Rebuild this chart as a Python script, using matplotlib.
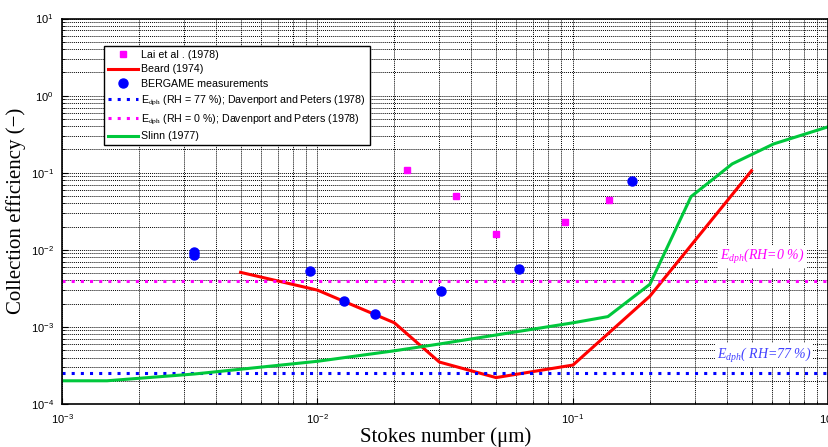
import numpy as np
import matplotlib
matplotlib.use("Agg")
import matplotlib.pyplot as plt

plt.rcParams['font.family'] = ['Liberation Sans', 'DejaVu Sans']
plt.rcParams['mathtext.default'] = 'regular'

# Lai et al. (1978)
lai_x = [0.0224, 0.0348, 0.0501, 0.0927, 0.138]
lai_y = [0.107, 0.0494, 0.0159, 0.0227, 0.0443]

# BERGAME measurements
berg_x = [0.0033, 0.0033, 0.00935, 0.0127, 0.0168, 0.0305, 0.0617, 0.171]
berg_y = [0.0094, 0.0086, 0.0053, 0.00217, 0.00147, 0.0029, 0.00558, 0.078]

# Beard (1974)
beard_x = [0.005, 0.01, 0.02, 0.03, 0.05, 0.1, 0.2, 0.5]
beard_y = [0.0051, 0.003, 0.00113, 0.00035, 0.00022, 0.00032, 0.0025, 0.106]

# Slinn (1977)
slinn_x = [0.001, 0.0015, 0.0033, 0.01, 0.02, 0.03, 0.05, 0.1, 0.137, 0.2, 0.29, 0.42, 0.61, 1.0]
slinn_y = [0.0002, 0.0002, 0.000245, 0.000358, 0.00049, 0.0006, 0.000785, 0.00113, 0.00136,
           0.00357, 0.049, 0.13, 0.236, 0.395]

# Davenport and Peters (1978)
edph_77 = 0.00025
edph_0 = 0.0039

fig = plt.figure(figsize=(8.29, 4.47), dpi=100)
ax = fig.add_axes([0.0748, 0.0962, 0.9245, 0.8624])

ax.set_xscale('log')
ax.set_yscale('log')
ax.set_xlim(1e-3, 1)
ax.set_ylim(1e-4, 10)

ax.grid(True, which='both', color='k', ls=(0, (1, 1)), lw=0.7)
ax.set_axisbelow(True)

ax.plot(lai_x, lai_y, 's', color='#ff00ff', ms=5, label='Lai et al . (1978)')
ax.plot(beard_x, beard_y, '-', color='#ff0000', lw=2.2, label='Beard (1974)')
ax.plot(berg_x, berg_y, 'o', color='#0000ff', ms=6.5, label='BERGAME measurements')
ax.axhline(edph_77, color='#0000ff', ls=(0, (1, 2)), lw=2.2,
           label=r'E$_{\rm dph}$ (RH = 77 %); Davenport and Peters (1978)')
ax.axhline(edph_0, color='#ff00ff', ls=(0, (1, 2)), lw=2.2,
           label=r'E$_{\rm dph}$ (RH = 0 %); Davenport and Peters (1978)')
ax.plot(slinn_x, slinn_y, '-', color='#00c83c', lw=2.2, label='Slinn (1977)')

ann = dict(fontsize=10, fontstyle='italic', family='Liberation Serif',
           va='center', ha='left', bbox=dict(fc='white', ec='none', pad=1.5))
plt.rcParams['mathtext.fontset'] = 'stix'
ax.text(0.378, 0.00815, r'$E_{dph}$(RH=0 %)', color='#ff00ff', **ann)
ax.text(0.365, 0.000432, r'$E_{dph}$( RH=77 %)', color='#4040ff', **ann)

ax.tick_params(which='both', direction='in', labelsize=8, top=False, right=False)
ax.tick_params(which='major', length=4, pad=6)
ax.tick_params(which='minor', length=2)

ax.set_xlabel('Stokes number (\u03bcm)', family='Liberation Serif', fontsize=15, labelpad=1)
ax.set_ylabel('Collection efficiency (\u2212)', family='Liberation Serif', fontsize=15, labelpad=3)

for s in ax.spines.values():
    s.set_linewidth(1.2)

leg = ax.legend(loc='upper left', bbox_to_anchor=(0.055, 0.928), fontsize=7.7,
                frameon=True, fancybox=False, framealpha=1, edgecolor='k',
                borderaxespad=0, handlelength=2.8, labelspacing=0.42,
                borderpad=0.35, handletextpad=0.3)
leg.get_frame().set_linewidth(1.0)

fig.savefig('out.png', dpi=100)
